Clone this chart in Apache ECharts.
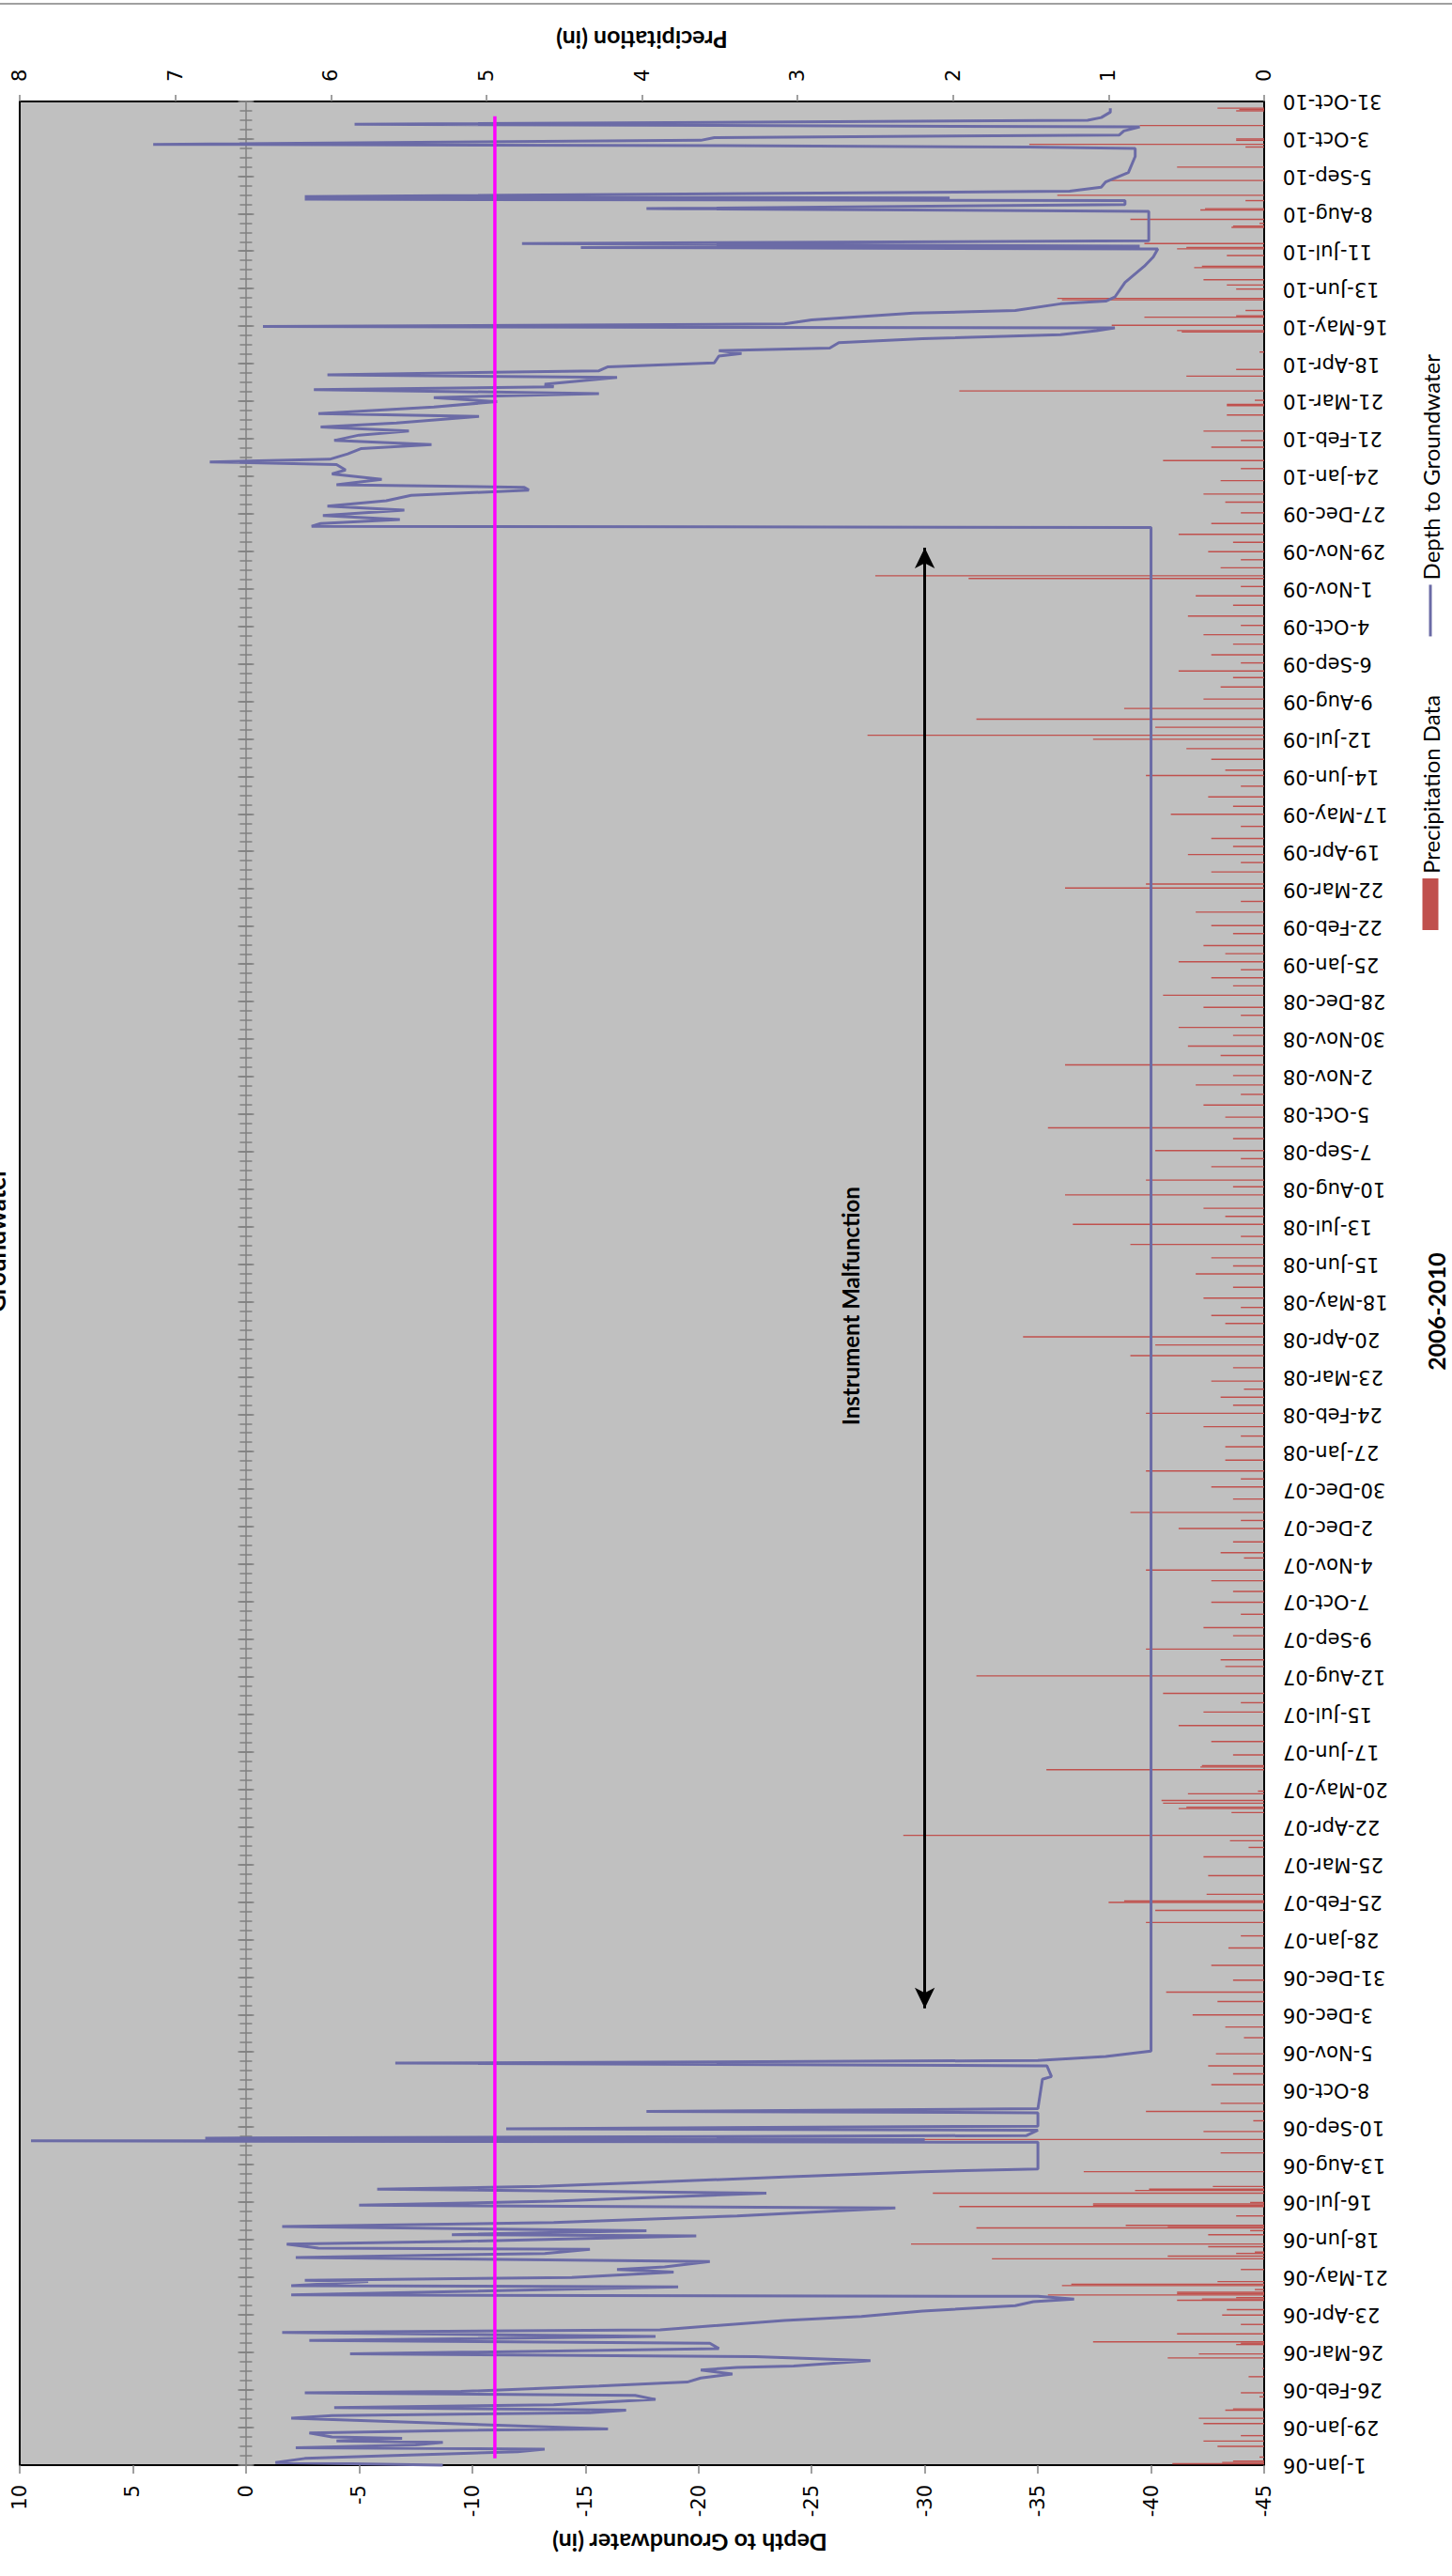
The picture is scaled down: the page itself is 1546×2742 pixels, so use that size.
<!DOCTYPE html>
<html><head><meta charset="utf-8">
<script src="https://cdn.jsdelivr.net/npm/echarts@6/dist/echarts.min.js"></script>
<style>
html,body{margin:0;padding:0;background:#fff;}
body{width:1546px;height:2742px;overflow:hidden;position:relative;}
#chart{position:absolute;left:0;top:0;width:2742px;height:1546px;transform-origin:0 0;transform:translate(0,2742px) rotate(-90deg);}
</style></head><body><div id="chart"></div>
<script>
// ---------- categories: one per day, 1-Jan-06 .. 31-Oct-10 ----------
const START = Date.UTC(2006, 0, 1);
const END = Date.UTC(2010, 9, 31);
const MONTHS = ['Jan','Feb','Mar','Apr','May','Jun','Jul','Aug','Sep','Oct','Nov','Dec'];
const categories = [];
for (let t = START; t <= END; t += 86400000) {
  const d = new Date(t);
  categories.push(d.getUTCDate() + '-' + MONTHS[d.getUTCMonth()] + '-' + String(d.getUTCFullYear()).slice(2));
}

// ---------- depth to groundwater: [day index since 1-Jan-06, inches] ----------
const depth2006 = [
  [0,-8.7],[2,-1.3],[5,-2.6],[7,-6.2],[10,-12.0],[12,-13.2],[13,-2.2],[15,-7.5],[17,-8.7],[18,-4.0],
  [20,-6.9],[21,-3.8],[24,-2.8],[26,-9.5],[27,-16.0],[35,-2.0],[37,-3.8],[39,-15.2],[41,-16.8],[43,-3.9],
  [45,-13.6],[49,-18.1],[52,-17.2],[54,-2.6],[55,-9.5],[59,-15.6],[62,-19.5],[65,-20.1],[68,-21.5],[71,-20.1],
  [73,-21.7],[74,-24.2],[78,-27.6],[81,-22.5],[83,-4.6],[87,-20.9],[91,-20.5],[93,-2.8],[96,-18.1],[99,-1.6],
  [101,-18.3],[108,-23.8],[111,-27.2],[115,-29.9],[119,-34.0],[122,-34.8],[124,-36.6],[126,-35.0],[127,-2.0],[133,-19.1],
  [134,-2.0],[137,-5.4],[138,-2.6],[140,-14.4],[144,-18.9],[146,-16.4],[148,-18.5],[152,-20.5],[155,-2.2],[158,-13.2],
  [161,-15.2],[162,-3.2],[165,-1.8],[167,-9.5],[171,-19.9],[172,-9.1],[175,-17.7],[178,-1.6],[181,-13.6],[186,-21.7],
  [192,-28.7],[194,-5.0],[197,-13.6],[203,-23.0],[206,-5.8],[208,-13.0],[211,-17.7],[215,-23.8],[219,-29.9],[221,-35.0],
  [241,-35.0],[242,9.5],[243,-30.0],[244,1.8],[246,-34.5],[250,-35.0],[251,-11.5],[253,-35.0],[263,-35.0],[264,-17.7],
  [266,-35.0],[288,-35.2],[290,-35.6],[298,-35.4],[300,-6.6],[302,-35.0],[305,-38.0],[309,-40.0]
];
const depthMalfunction = [[1446,-40.0]];
const depth2010 = [
  [1447,-2.9],[1449,-3.3],[1452,-6.8],[1455,-3.4],[1459,-7.0],[1462,-3.6],[1466,-6.2],[1470,-7.3],[1474,-12.5],[1476,-12.3],
  [1478,-4.0],[1482,-6.0],[1486,-3.8],[1489,-4.4],[1493,-4.0],[1495,1.6],[1497,-3.7],[1501,-4.5],[1505,-5.1],[1508,-8.2],
  [1511,-3.9],[1515,-5.0],[1518,-7.2],[1521,-3.3],[1524,-6.65],[1529,-10.3],[1531,-3.2],[1536,-8.3],[1540,-11.1],[1543,-8.3],
  [1546,-15.6],[1549,-3.0],[1551,-13.6],[1553,-13.2],[1558,-16.4],[1560,-3.6],[1563,-15.6],[1566,-16.0],[1569,-20.7],[1574,-20.9],
  [1576,-21.9],[1578,-20.9],[1580,-25.8],[1584,-26.2],[1587,-29.9],[1590,-36.0],[1593,-37.6],[1595,-38.4],[1596,-0.75],[1598,-23.8],
  [1601,-25.0],[1606,-29.5],[1608,-34.0],[1613,-36.0],[1615,-38.0],[1618,-38.4],[1629,-38.85],[1641,-39.7],[1648,-40.1],[1654,-40.3],
  [1655,-14.8],[1656,-39.5],[1658,-12.2],[1660,-39.9],[1682,-39.9],[1684,-17.7],[1687,-38.85],[1690,-38.85],[1691,-2.6],[1692,-31.1],
  [1693,-2.6],[1697,-36.4],[1700,-37.8],[1704,-38.0],[1711,-39.0],[1723,-39.3],[1729,-39.3],[1730,-34.6],[1731,-21.1],[1732,4.1],
  [1735,-20.1],[1737,-20.7],[1739,-38.6],[1742,-38.8],[1745,-39.5],[1747,-4.8],[1750,-37.2],[1752,-37.8],[1756,-38.2],[1759,-38.2]
];

// ---------- precipitation: [day index, inches] ----------
const precip2006 = [
  [1,0.59],[2,0.27],[3,0.2],[6,0.03],[14,0.3],[18,0.39],[22,0.15],[31,0.39],[35,0.42],[41,0.25],[42,0.2],[51,0.03],
  [54,0.15],[66,0.1],[72,0.01],[80,0.62],[83,0.42],[90,0.18],[91,0.15],[92,1.1],[98,0.56],[105,0.15],[112,0.27],
  [116,0.24],[123,0.56],[124,0.4],[125,0.18],[127,1.39],[128,0.56],[129,0.56],[131,0.06],[134,1.3],[135,1.24],[137,0.3],
  [146,0.15],[154,1.75],[156,0.62],[158,0.18],[159,0.06],[163,0.36],[165,2.27],[172,0.36],[175,0.09],[177,1.85],[178,0.62],
  [179,0.89],[186,0.18],[193,1.96],[194,1.1],[195,1.1],[196,0.09],[203,2.13],[205,0.83],[206,0.74],[208,0.33],[219,1.16],
  [233,0.28],[243,2.95],[249,0.39],[257,0.07],[264,0.76],[270,0.28],[284,0.34],[292,0.2],[298,0.36],[307,0.31],[319,0.13],
  [327,0.25],[336,0.46],[346,0.3],[353,0.63],[362,0.2]
];
const precip2007 = [
  [373,0.34],[386,0.23],[395,0.15],[405,0.76],[414,0.7],[420,1.0],[421,0.9],[426,0.37],[440,0.36],[454,0.39],[461,0.1],
  [466,0.22],[470,2.32],[487,0.21],[490,0.55],[491,0.5],[494,0.65],[496,0.66],[501,0.49],[503,0.04],[519,1.4],[521,0.41],
  [522,0.4],[530,0.2],[540,0.34],[552,0.55],[562,0.39],[569,0.15],[576,0.65],[589,1.85],[596,0.25],[601,0.28],[609,0.76],
  [619,0.2],[625,0.39],[635,0.15],[644,0.34],[652,0.2],[660,0.34],[668,0.76],[677,0.13],[681,0.28],[689,0.2],[699,0.55],
  [705,0.15],[711,0.86],[721,0.2],[730,0.34]
];
const precip2008 = [
  [736,0.15],[742,0.76],[750,0.25],[760,0.25],[768,0.15],[775,0.39],[785,0.76],[791,0.2],[797,0.28],[803,0.13],[809,0.34],
  [819,0.2],[828,0.86],[836,0.7],[842,1.55],[852,0.25],[858,0.34],[864,0.15],[871,0.39],[879,0.2],[889,0.44],[895,0.2],
  [901,0.34],[911,0.86],[917,0.15],[926,1.23],[932,0.25],[938,0.39],[948,1.28],[954,0.2],[959,0.76],[969,0.34],[975,0.15],
  [981,0.7],[990,0.2],[998,1.39],[1006,0.25],[1015,0.39],[1023,0.15],[1030,0.44],[1037,0.2],[1045,1.28],[1052,0.28],[1059,0.49],
  [1067,0.2],[1073,0.55],[1082,0.15],[1088,0.39]
];
const precip2009 = [
  [1097,0.65],[1104,0.2],[1110,0.34],[1116,0.15],[1122,0.55],[1128,0.25],[1134,0.39],[1143,0.2],[1149,0.34],[1159,0.44],
  [1167,0.15],[1177,1.28],[1180,0.76],[1189,0.34],[1196,0.15],[1202,0.49],[1208,0.2],[1214,0.34],[1223,0.15],[1232,0.6],
  [1238,0.2],[1245,0.36],[1253,0.15],[1261,0.76],[1265,0.25],[1273,0.34],[1281,0.5],[1288,1.1],[1291,2.55],[1297,0.7],
  [1303,1.85],[1311,0.9],[1318,0.39],[1327,0.28],[1334,0.2],[1339,0.55],[1345,0.15],[1351,0.34],[1359,0.2],[1366,0.39],
  [1373,0.15],[1380,0.49],[1388,0.2],[1395,0.44],[1402,0.15],[1408,1.9],[1410,2.5],[1416,0.28],[1422,0.15],[1428,0.36],
  [1435,0.2],[1441,0.55],[1449,0.34],[1457,0.15]
];
const precip2010 = [
  [1465,0.25],[1471,0.39],[1481,0.28],[1490,0.15],[1496,0.65],[1506,0.34],[1511,0.15],[1518,0.39],[1530,0.24],[1537,0.24],
  [1538,0.24],[1541,0.06],[1548,1.96],[1559,0.5],[1564,0.18],[1577,0.03],[1592,0.53],[1593,0.56],[1597,0.98],[1603,0.77],
  [1604,0.18],[1608,0.12],[1616,1.3],[1617,1.33],[1624,0.18],[1627,0.24],[1631,0.39],[1640,0.45],[1641,0.4],[1649,0.24],
  [1654,0.56],[1655,0.5],[1658,0.77],[1670,0.21],[1671,0.2],[1673,0.03],[1676,0.86],[1683,0.41],[1684,0.38],[1690,0.12],
  [1694,1.33],[1705,1.0],[1715,0.56],[1730,0.12],[1732,1.51],[1735,0.18],[1736,0.18],[1746,0.8],[1757,0.18],[1758,0.16],[1759,0.3]
];

// threshold line and malfunction annotation (data coordinates)
const thresholdDepth = -11;
const thresholdSpan = [5, 1753];
const malfunctionSpan = [341, 1431];
const malfunctionDepth = -30;
const malfunctionLabelAt = [865, -26.7];

const depthData = depth2006.concat(depthMalfunction, depth2010);
const precipData = precip2006.concat(precip2007, precip2008, precip2009, precip2010);

const chart = echarts.init(document.getElementById('chart'), null, {renderer: 'svg', width: 2742, height: 1546});

const zeroAxis = (inside, interval, len, showLine) => ({
  type: 'category', data: categories, boundaryGap: false, position: 'bottom',
  axisLine: {show: showLine, onZero: true, onZeroAxisIndex: 0, lineStyle: {color: '#808080', width: 1.5}},
  axisTick: {show: true, inside: inside, interval: interval, length: len, lineStyle: {color: '#808080', width: 1.5}},
  axisLabel: {show: false}, splitLine: {show: false}, silent: true
});

const NUMFONT = 'DejaVu Sans';
const TXTFONT = 'Lato';
const LINE_BLUE = '#6B6BA6';

chart.setOption({
  animation: false,
  backgroundColor: '#ffffff',
  title: {
    text: 'Groundwater', left: 1340, top: -22,
    textStyle: {fontFamily: TXTFONT, fontWeight: 'bold', fontSize: 26, color: '#000'}
  },
  legend: {
    data: [
      {name: 'Precipitation Data', icon: 'rect'},
      {name: 'Depth to Groundwater', itemStyle: {color: 'rgba(0,0,0,0)', borderWidth: 0, opacity: 0},
        lineStyle: {color: LINE_BLUE, width: 3}}
    ],
    left: 1747, top: 1506, itemWidth: 55, itemHeight: 17, itemGap: 61,
    textStyle: {fontFamily: TXTFONT, fontSize: 24, color: '#000'}
  },
  grid: {
    left: 118, right: 108, top: 21, bottom: 196, show: true,
    backgroundColor: '#C0C0C0', borderColor: '#000', borderWidth: 2, containLabel: false
  },
  xAxis: [
    {
      type: 'category', data: categories, boundaryGap: false, position: 'bottom',
      axisLine: {show: true, onZero: false, lineStyle: {color: '#000', width: 2}},
      axisTick: {show: false},
      axisLabel: {interval: 27, rotate: 90, margin: 20, fontFamily: NUMFONT, fontSize: 21, color: '#000'},
      splitLine: {show: false},
      name: '2006-2010', nameLocation: 'middle', nameGap: 170,
      nameTextStyle: {fontFamily: TXTFONT, fontWeight: 'bold', fontSize: 25, color: '#000', padding: [0, 60, 0, 0]}
    },
    zeroAxis(false, 6, 6.5, true),
    zeroAxis(true, 6, 6.5, false),
    zeroAxis(false, 27, 8.5, false),
    zeroAxis(true, 27, 8.5, false)
  ],
  yAxis: [
    {
      type: 'value', min: -45, max: 10, interval: 5, position: 'left',
      axisLine: {show: true, lineStyle: {color: '#000', width: 2}},
      axisTick: {show: true, inside: false, length: 9, lineStyle: {color: '#808080', width: 1.5}},
      axisLabel: {margin: 21, fontFamily: NUMFONT, fontSize: 21, color: '#000'},
      splitLine: {show: false},
      name: 'Depth to Groundwater (in)', nameLocation: 'middle', nameRotate: 90, nameGap: 70,
      nameTextStyle: {fontFamily: TXTFONT, fontWeight: 'bold', fontSize: 25, color: '#000', padding: [0, 102, 0, 0]}
    },
    {
      type: 'value', min: 0, max: 8, interval: 1, position: 'right',
      axisLine: {show: true, lineStyle: {color: '#000', width: 2}},
      axisTick: {show: true, inside: false, length: 7, lineStyle: {color: '#808080', width: 1.5}},
      axisLabel: {margin: 21, fontFamily: NUMFONT, fontSize: 21, color: '#000'},
      splitLine: {show: false},
      name: 'Precipitation (in)', nameLocation: 'middle', nameRotate: 90, nameGap: 53,
      nameTextStyle: {fontFamily: TXTFONT, fontWeight: 'bold', fontSize: 25, color: '#000'}
    }
  ],
  series: [
    {
      name: 'Precipitation Data', type: 'bar', xAxisIndex: 0, yAxisIndex: 1,
      data: precipData, barWidth: 1.4, itemStyle: {color: '#C0504D'}, z: 2, silent: true
    },
    {
      name: 'Depth to Groundwater', type: 'line', xAxisIndex: 0, yAxisIndex: 0,
      data: depthData, symbol: 'none', showSymbol: false,
      lineStyle: {color: LINE_BLUE, width: 3}, itemStyle: {color: LINE_BLUE}, z: 3, silent: true
    },
    {
      name: 'Threshold', type: 'line', xAxisIndex: 0, yAxisIndex: 0,
      data: [[thresholdSpan[0], thresholdDepth], [thresholdSpan[1], thresholdDepth]],
      symbol: 'none', lineStyle: {color: '#FF00FF', width: 3.5}, z: 5, silent: true,
      markLine: {
        silent: true, symbol: ['arrow', 'arrow'], symbolSize: [16, 22],
        lineStyle: {color: '#000', width: 3, type: 'solid'}, label: {show: false},
        data: [[{coord: [malfunctionSpan[0], malfunctionDepth]}, {coord: [malfunctionSpan[1], malfunctionDepth]}]]
      },
      markPoint: {
        silent: true, symbol: 'rect', symbolSize: 1, itemStyle: {color: 'rgba(0,0,0,0)'},
        label: {show: true, position: 'inside', formatter: 'Instrument Malfunction',
          fontFamily: TXTFONT, fontWeight: 'bold', fontSize: 24, color: '#000'},
        data: [{coord: malfunctionLabelAt}]
      }
    }
  ],
  graphic: [
    {type: 'line', shape: {x1: 2738, y1: 0, x2: 2738, y2: 1546}, style: {stroke: '#A0A0A0', lineWidth: 2}, silent: true}
  ]
});
</script></body></html>
